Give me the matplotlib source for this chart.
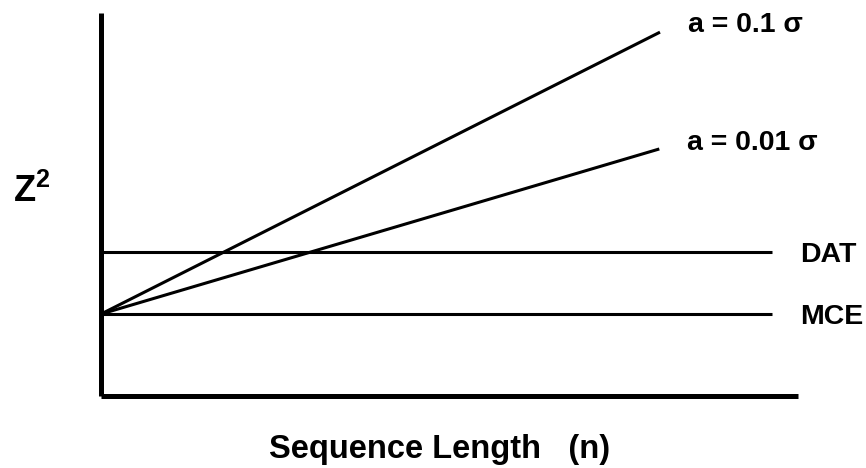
import matplotlib
matplotlib.use("Agg")
import matplotlib.pyplot as plt

plt.rcParams['font.family'] = ['Liberation Sans', 'DejaVu Sans']
plt.rcParams['mathtext.fontset'] = 'custom'
plt.rcParams['mathtext.bf'] = 'Liberation Sans:bold'
plt.rcParams['mathtext.rm'] = 'Liberation Sans'

# schematic lines: all start at n = 0, end values
labels = ['a = 0.1 σ', 'a = 0.01 σ', 'DAT', 'MCE']
n_start = [0, 0, 0, 0]
n_end = [80.2, 80.1, 96.3, 96.3]
z_start = [21.4, 21.4, 37.6, 21.4]
z_end = [95, 64.5, 37.6, 21.4]
label_dy = [5, 4, -2, -2]   # small vertical nudge of the label text, points

fig = plt.figure(figsize=(8.66, 4.68), dpi=100)
ax = fig.add_axes([101/866, 1 - 396/468, 697/866, 383/468])

for i in range(len(labels)):
    ax.plot([n_start[i], n_end[i]], [z_start[i], z_end[i]], color='black',
            lw=2.2, solid_capstyle='butt')
    ax.annotate(labels[i], xy=(n_end[i], z_end[i]), xytext=(20, label_dy[i]),
                textcoords='offset points', ha='left', va='center',
                fontsize=20.5, fontweight='bold')

ax.set_xlim(0, 100)
ax.set_ylim(0, 100)
ax.set_xticks([])
ax.set_yticks([])
for s in ['top', 'right']:
    ax.spines[s].set_visible(False)
for s in ['left', 'bottom']:
    ax.spines[s].set_linewidth(3.6)
    ax.spines[s].set_capstyle('butt')

ax.set_ylabel(r'$\mathbf{Z^2}$', rotation=0, fontsize=26, ha='left', va='baseline')
ax.yaxis.set_label_coords(-0.126, 0.507)
ax.set_xlabel('Sequence Length   (n)', fontsize=23.5, fontweight='bold', va='baseline')
ax.xaxis.set_label_coords(0.486, -0.162)

fig.savefig('out.png', dpi=100)
